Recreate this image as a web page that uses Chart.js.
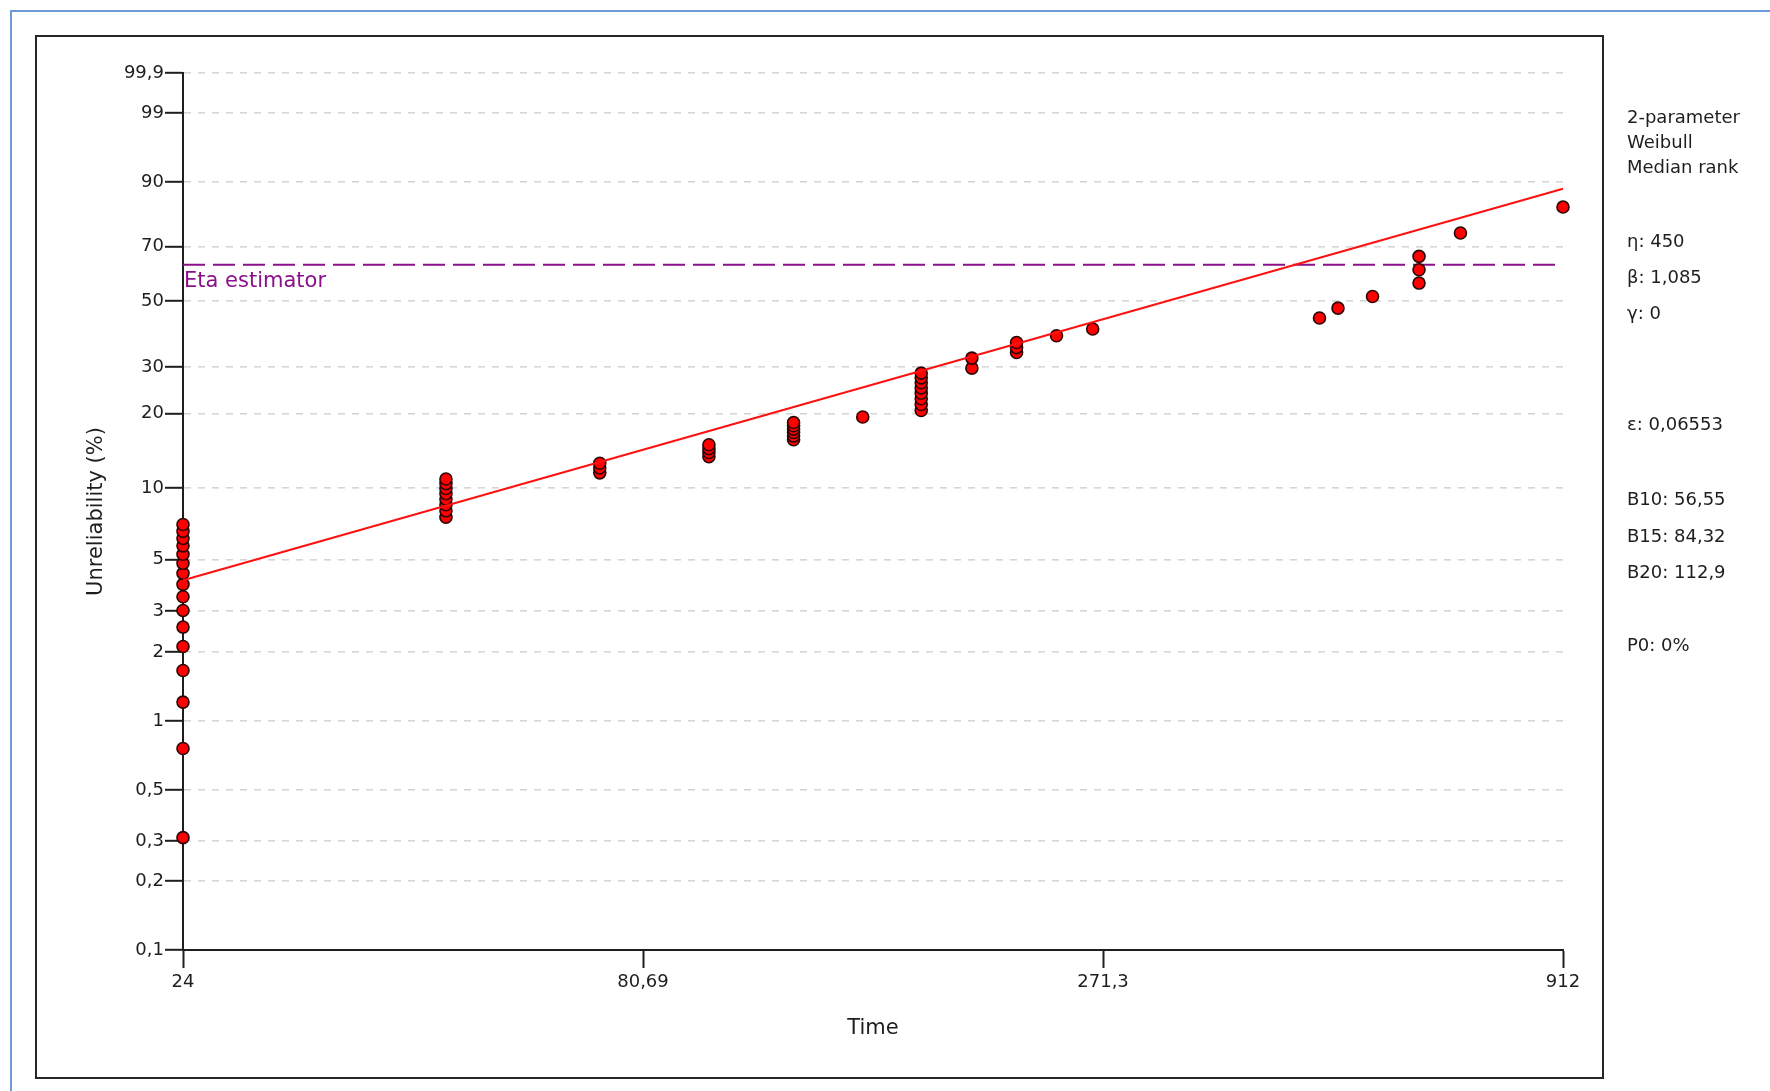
<!DOCTYPE html>
<html>
<head>
<meta charset="utf-8">
<title>Weibull probability plot</title>
<script src="https://cdn.jsdelivr.net/npm/chart.js@4.4.1/dist/chart.umd.min.js"></script>
<style>
  html, body { margin: 0; padding: 0; background: #ffffff; }
  #wrap { position: relative; width: 1770px; height: 1091px; overflow: hidden; background: #ffffff; }
  #edge { position: absolute; left: 10px; top: 10px; width: 1800px; height: 1120px;
          border-left: 2px solid #6f9bd8; border-top: 2px solid #6f9bd8; }
  canvas { position: absolute; left: 0; top: 0; }
</style>
</head>
<body>
<div id="wrap">
  <div id="edge"></div>
  <canvas id="plot" width="1770" height="1091"></canvas>
</div>
<script>
// Failure times (hours) and their median-rank unreliability (%)
const failureTimes = [
  24, 24, 24, 24, 24, 24, 24, 24, 24, 24, 24, 24, 24, 24, 24, 24,
  48, 48, 48, 48, 48, 48, 48, 48,
  72, 72, 72,
  96, 96, 96, 96,
  120, 120, 120, 120, 120, 120,
  144,
  168, 168, 168, 168, 168, 168, 168, 168,
  192, 192,
  216, 216, 216,
  240,
  264,
  480,
  504,
  552,
  624, 624, 624,
  696,
  912
];
const unreliabilityPct = [
  0.31, 0.76, 1.21, 1.66, 2.11, 2.56, 3.02, 3.46, 3.91, 4.36, 4.81, 5.26, 5.71, 6.14, 6.58, 7.03,
  7.55, 8.03, 8.51, 8.99, 9.47, 9.95, 10.43, 10.9,
  11.55, 12.1, 12.65,
  13.45, 13.98, 14.5, 15.03,
  15.75, 16.29, 16.83, 17.37, 17.91, 18.45,
  19.39,
  20.56, 21.69, 22.83, 23.96, 25.1, 26.23, 27.37, 28.5,
  29.73, 32.31,
  33.83, 35.2, 36.66,
  38.66,
  40.73,
  44.25,
  47.59,
  51.62,
  56.45, 61.37, 66.3,
  74.75,
  83.28
];

// Fitted 2-parameter Weibull
const etaScale = 450;
const betaShape = 1.085;
const fitTimes = [24, 912];
const etaEstimatorPct = 63.21;

// Axis ticks
const timeTicks = [24, 80.69, 271.3, 912];
const timeTickLabels = ['24', '80,69', '271,3', '912'];
const unreliabilityTicks = [0.1, 0.2, 0.3, 0.5, 1, 2, 3, 5, 10, 20, 30, 50, 70, 90, 99, 99.9];
const unreliabilityTickLabels = ['0,1', '0,2', '0,3', '0,5', '1', '2', '3', '5', '10', '20', '30', '50', '70', '90', '99', '99,9'];

// Side panel summary
const infoLines = ['2-parameter', 'Weibull', 'Median rank', 'η: 450', 'β: 1,085', 'γ: 0',
                   'ε: 0,06553', 'B10: 56,55', 'B15: 84,32', 'B20: 112,9', 'P0: 0%'];

// Weibull probability-paper transform: ln(-ln(1 - F))
const weib = p => Math.log(-Math.log(1 - p / 100));

const points = failureTimes.map((t, i) => ({ x: t, y: weib(unreliabilityPct[i]) }));
const fitLine = fitTimes.map(t => ({ x: t, y: betaShape * (Math.log(t) - Math.log(etaScale)) }));
const etaLine = fitTimes.map(t => ({ x: t, y: weib(etaEstimatorPct) }));

const FONT = '"DejaVu Sans", "Liberation Sans", Arial, sans-serif';
const INK = '#1e1e1e';

const overlay = {
  id: 'overlay',
  afterDraw(chart) {
    const ctx = chart.ctx;
    const xs = chart.scales.x, ys = chart.scales.y;
    ctx.save();
    // outer frame around the plot panel
    ctx.strokeStyle = '#262626';
    ctx.lineWidth = 2;
    ctx.strokeRect(36, 36, 1567, 1042);

    // eta estimator caption under its line
    ctx.fillStyle = '#8a108a';
    ctx.font = '21px ' + FONT;
    ctx.textAlign = 'left';
    ctx.textBaseline = 'alphabetic';
    ctx.fillText('Eta estimator', xs.getPixelForValue(fitTimes[0]) + 1, ys.getPixelForValue(weib(etaEstimatorPct)) + 22);

    // summary panel on the right
    const rowY = [118.5, 143, 168, 242, 278, 314.5, 425.5, 500.5, 537, 573, 646];
    ctx.fillStyle = INK;
    ctx.font = '18px ' + FONT;
    ctx.textBaseline = 'middle';
    infoLines.forEach((s, i) => ctx.fillText(s, 1627, rowY[i]));
    ctx.restore();
  }
};

new Chart(document.getElementById('plot'), {
  type: 'scatter',
  data: {
    datasets: [
      {
        type: 'line',
        label: 'Weibull fit',
        data: fitLine,
        borderColor: '#ff1010',
        borderWidth: 2,
        pointRadius: 0,
        fill: false,
        clip: false,
        order: 0
      },
      {
        label: 'Failures',
        data: points,
        pointRadius: 6,
        pointBorderWidth: 1.6,
        pointBackgroundColor: '#ff0000',
        pointBorderColor: '#2a0505',
        clip: false,
        order: 1
      },
      {
        type: 'line',
        label: 'Eta estimator',
        data: etaLine,
        borderColor: '#8a108a',
        borderWidth: 2,
        borderDash: [22, 8],
        pointRadius: 0,
        fill: false,
        clip: false,
        order: 2
      }
    ]
  },
  options: {
    responsive: false,
    animation: false,
    events: [],
    layout: { padding: { left: 70, top: 73, right: 207, bottom: 40 } },
    plugins: { legend: { display: false }, tooltip: { enabled: false } },
    scales: {
      x: {
        type: 'logarithmic',
        min: fitTimes[0],
        max: fitTimes[1],
        afterBuildTicks(scale) { scale.ticks = timeTicks.map(v => ({ value: v })); },
        afterFit(scale) { scale.height = 101; },
        ticks: {
          autoSkip: false,
          maxRotation: 0,
          padding: 4,
          color: INK,
          font: { family: FONT, size: 18 },
          callback: (v, i) => timeTickLabels[i]
        },
        grid: { drawOnChartArea: false, drawTicks: true, tickLength: 18, tickColor: INK, tickWidth: 2 },
        border: { color: INK, width: 2 },
        title: { display: true, text: 'Time', color: INK, font: { family: FONT, size: 21 }, padding: { top: 0, bottom: 10.3 } }
      },
      y: {
        type: 'linear',
        min: weib(unreliabilityTicks[0]),
        max: weib(unreliabilityTicks[unreliabilityTicks.length - 1]),
        afterBuildTicks(scale) { scale.ticks = unreliabilityTicks.map(p => ({ value: weib(p) })); },
        afterFit(scale) { scale.width = 113; },
        ticks: {
          autoSkip: false,
          padding: 1,
          color: INK,
          font: { family: FONT, size: 18 },
          callback: (v, i) => unreliabilityTickLabels[i]
        },
        grid: { color: '#d6d6d6', lineWidth: 1.6, drawTicks: true, tickLength: 18, tickColor: INK, tickWidth: 2 },
        border: { color: INK, width: 2, dash: [7, 7] },
        title: { display: true, text: 'Unreliability (%)', color: INK, font: { family: FONT, size: 21 }, padding: { top: 13.6, bottom: 0 } }
      }
    }
  },
  plugins: [overlay]
});
</script>
</body>
</html>
